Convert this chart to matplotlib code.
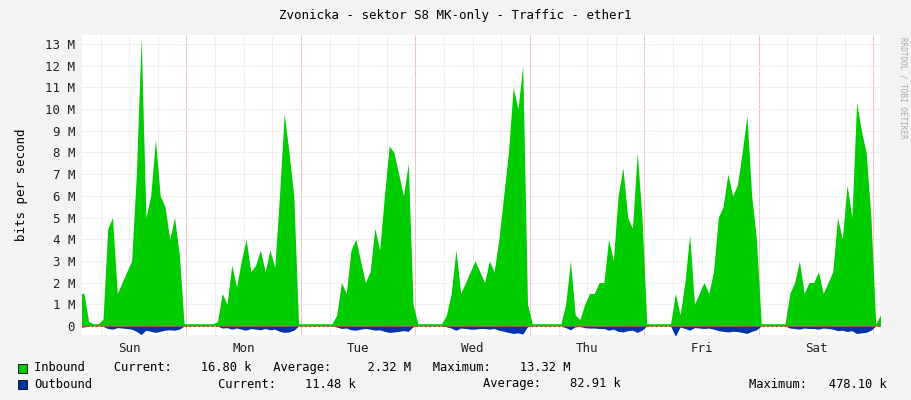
import matplotlib
matplotlib.use("Agg")
import matplotlib.pyplot as plt
import numpy as np

days = ["Sun", "Mon", "Tue", "Wed", "Thu", "Fri", "Sat"]
# hourly inbound traffic, Mbit/s
inbound = [
    [1.0, 1.5, 1.5, 0.2, 0.1, 0.1, 0.3, 4.5, 5.0, 1.5, 2.0, 2.5, 3.0, 7.0, 13.3, 5.0, 6.0, 8.6, 6.0, 5.5, 4.0, 5.0, 3.3, 0.1],
    [0.1, 0.1, 0.1, 0.1, 0.1, 0.1, 0.2, 1.5, 1.0, 2.8, 1.8, 3.0, 4.0, 2.5, 2.8, 3.5, 2.5, 3.5, 2.7, 6.0, 9.8, 8.0, 6.0, 0.1],
    [0.1, 0.1, 0.1, 0.1, 0.1, 0.1, 0.1, 0.5, 2.0, 1.5, 3.5, 4.0, 3.0, 2.0, 2.5, 4.5, 3.5, 6.0, 8.3, 8.0, 7.0, 6.0, 7.5, 1.0],
    [0.1, 0.1, 0.1, 0.1, 0.1, 0.1, 0.5, 1.5, 3.5, 1.5, 2.0, 2.5, 3.0, 2.5, 2.0, 3.0, 2.5, 4.0, 6.0, 8.0, 11.0, 10.0, 12.0, 1.0],
    [0.1, 0.1, 0.1, 0.1, 0.1, 0.1, 0.1, 1.0, 3.0, 0.5, 0.3, 1.0, 1.5, 1.5, 2.0, 2.0, 4.0, 3.0, 6.0, 7.3, 5.0, 4.5, 8.0, 5.0],
    [0.1, 0.1, 0.1, 0.1, 0.1, 0.1, 1.5, 0.5, 2.0, 4.2, 1.0, 1.5, 2.0, 1.5, 2.5, 5.0, 5.5, 7.0, 6.0, 6.5, 8.0, 9.7, 6.0, 4.0],
    [0.1, 0.1, 0.1, 0.1, 0.1, 0.1, 1.5, 2.0, 3.0, 1.5, 2.0, 2.0, 2.5, 1.5, 2.0, 2.5, 5.0, 4.0, 6.5, 5.0, 10.3, 9.0, 8.0, 5.0],
    [0.1, 0.5],
]
# hourly outbound traffic, kbit/s
outbound = [
    [40, 60, 50, 10, 5, 5, 20, 120, 150, 80, 100, 120, 150, 250, 400, 200, 250, 300, 250, 200, 180, 200, 150, 10],
    [5, 5, 5, 5, 5, 5, 10, 100, 80, 150, 100, 150, 200, 120, 150, 180, 120, 180, 150, 250, 300, 280, 200, 10],
    [5, 5, 5, 5, 5, 5, 5, 50, 120, 100, 180, 200, 150, 120, 150, 200, 180, 250, 300, 280, 250, 220, 250, 40],
    [5, 5, 5, 5, 5, 5, 40, 100, 200, 100, 120, 150, 150, 120, 120, 150, 120, 200, 250, 300, 350, 320, 380, 40],
    [5, 5, 5, 5, 5, 5, 5, 80, 180, 40, 30, 80, 100, 100, 120, 120, 200, 150, 250, 280, 220, 200, 300, 200],
    [5, 5, 5, 5, 5, 5, 478, 50, 120, 200, 80, 100, 120, 100, 150, 220, 250, 280, 250, 260, 300, 350, 250, 180],
    [5, 5, 5, 5, 5, 5, 100, 120, 150, 100, 120, 120, 150, 100, 120, 150, 220, 200, 260, 220, 350, 320, 300, 200],
    [5, 20],
]

inb = np.concatenate([np.array(d) for d in inbound])
outb = np.concatenate([np.array(d) for d in outbound]) / 1000.0
hours = np.arange(len(inb)) + 0.5

fig = plt.figure(figsize=(9.11, 4.0), dpi=100, facecolor="#f3f3f3")
ax = fig.add_axes([82/911, 65/400, 798/911, 300/400])
ax.set_facecolor("white")
ax.fill_between(hours, 0, inb, color="#00cc00", linewidth=0)
ax.fill_between(hours, 0, -outb, color="#0033aa", linewidth=0)
ax.axhline(0, color="#cc3333", lw=0.8, ls=(0, (2, 2)))

ax.set_xlim(2.1, 169.4)
ax.set_ylim(-0.42, 13.42)
for h in range(0, 170, 6):
    ax.axvline(h, color="#dddddd", lw=0.6, ls=(0, (1, 1)), zorder=0)
for h in range(24, 170, 24):
    ax.axvline(h, color="#ff9999", lw=0.7, ls=(0, (1, 1)), zorder=0)
yt = np.arange(0, 14)
for y in yt[1:]:
    ax.axhline(y, color="#dddddd", lw=0.6, ls=(0, (1, 1)), zorder=0)
ax.set_yticks(yt)
ax.set_yticklabels(["0"] + [f"{v} M" for v in yt[1:]])
ax.set_xticks([12 + 24 * i for i in range(7)])
ax.set_xticklabels(days)
ax.tick_params(length=0, labelsize=9, colors="#222222", pad=5)
for lbl in ax.get_xticklabels() + ax.get_yticklabels():
    lbl.set_family("DejaVu Sans Mono")
for s in ax.spines.values():
    s.set_visible(False)
ax.set_ylabel("bits per second", family="DejaVu Sans Mono", fontsize=9, labelpad=12)

fig.text(0.5, 0.962, "Zvonicka - sektor S8 MK-only - Traffic - ether1",
         ha="center", va="center", family="DejaVu Sans Mono", fontsize=9)
fig.text(903/911, 0.78, "RRDTOOL / TOBI OETIKER", rotation=270, ha="center", va="center",
         family="DejaVu Sans Mono", fontsize=5.5, color="#aaaaaa")

mono = dict(family="DejaVu Sans Mono", fontsize=8.7, va="center")
fig.patches.append(plt.Rectangle((18/911, 1 - 373/400), 9/911, 9/400, transform=fig.transFigure,
                                 facecolor="#00cc00", edgecolor="black", lw=0.6))
fig.patches.append(plt.Rectangle((18/911, 1 - 389/400), 9/911, 9/400, transform=fig.transFigure,
                                 facecolor="#0033aa", edgecolor="black", lw=0.6))
fig.text(34/911, 1 - 368/400, "Inbound    Current:    16.80 k   Average:     2.32 M   Maximum:    13.32 M", **mono)
fig.text(34/911, 1 - 384/400, "Outbound", **mono)
fig.text(218/911, 1 - 384/400, "Current:    11.48 k", **mono)
fig.text(483/911, 1 - 384/400, "Average:    82.91 k", **mono)
fig.text(749/911, 1 - 384/400, "Maximum:   478.10 k", **mono)

fig.savefig("out.png", dpi=100, facecolor=fig.get_facecolor())
